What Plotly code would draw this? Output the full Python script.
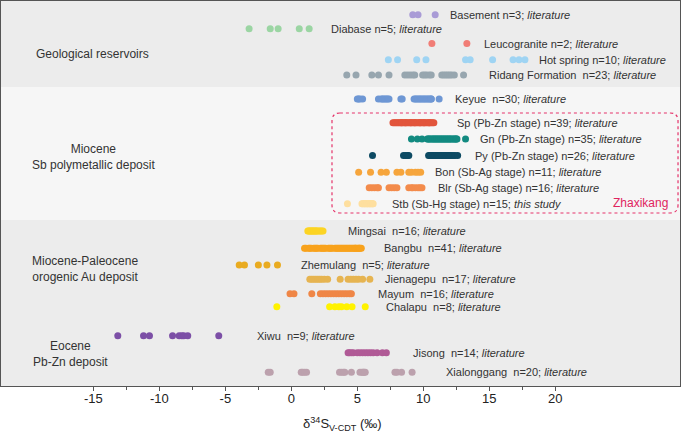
import plotly.graph_objects as go

# ---------------- data (δ34S values, ‰) ----------------
names = ["Basement", "Diabase", "Leucogranite", "Hot spring", "Ridang Formation",
         "Keyue", "Sp", "Gn", "Py", "Bon", "Blr", "Stb",
         "Mingsai", "Bangbu", "Zhemulang", "Jienagepu", "Mayum", "Chalapu",
         "Xiwu", "Jisong", "Xialonggang"]

basement = [9.2, 9.6, 10.9]
diabase = [-3.2, -1.6, -1.0, 0.6, 1.35]
leucogranite = [10.65, 13.3]
hot_spring = [7.35, 8.05, 9.5, 10.2, 13.2, 13.55, 15.25, 16.8, 17.25, 17.7]
ridang = [4.2, 4.9, 6.1, 6.6, 7.4, 8.6, 8.8, 9.0, 9.2, 9.35, 9.95, 10.1, 10.25,
          10.45, 10.6, 11.4, 11.55, 11.7, 11.85, 12.0, 12.15, 12.35, 13.05]
keyue = [5.0, 5.1, 5.2, 5.4, 6.6, 6.8, 6.9, 7.0, 7.1, 7.2, 7.3, 7.4, 8.3, 8.4,
         9.3, 9.4, 9.5, 9.6, 9.7, 9.8, 9.9, 10.0, 10.1, 10.2, 10.3, 10.4, 10.5,
         10.6, 10.6, 11.2]
sp = [7.7, 7.8, 7.9, 8.0, 8.1, 8.2, 8.3, 8.35, 8.4, 8.5, 8.6, 8.65, 8.7, 8.8,
      8.9, 9.0, 9.05, 9.1, 9.2, 9.3, 9.35, 9.4, 9.5, 9.6, 9.7, 9.75, 9.8, 9.9,
      10.0, 10.05, 10.1, 10.2, 10.3, 10.4, 10.45, 10.5, 10.6, 10.7, 10.8]
gn = [9.1, 9.55, 9.9, 10.3, 10.35, 10.45, 10.5, 10.6, 10.7, 10.75, 10.85, 10.9,
      11.0, 11.05, 11.15, 11.2, 11.3, 11.35, 11.45, 11.5, 11.6, 11.65, 11.75,
      11.8, 11.9, 11.95, 12.05, 12.1, 12.2, 12.3, 12.35, 12.45, 12.5, 12.55, 13.2]
py = [6.15, 8.5, 8.65, 8.8, 8.9, 10.4, 10.5, 10.6, 10.7, 10.8, 10.9, 11.0, 11.1,
      11.2, 11.3, 11.4, 11.5, 11.6, 11.7, 11.8, 11.9, 12.0, 12.1, 12.25, 12.4, 12.6]
bon = [5.1, 6.0, 6.8, 7.2, 8.0, 8.3, 8.9, 9.1, 9.4, 9.6, 9.8]
blr = [5.9, 6.1, 6.3, 6.5, 6.6, 7.4, 7.6, 7.8, 8.0, 8.9, 9.1, 9.2, 9.4, 9.6, 9.75, 9.9]
stb = [4.25, 5.35, 5.4, 5.5, 5.55, 5.6, 5.7, 5.75, 5.8, 5.9, 5.95, 6.0, 6.1, 6.15, 6.2]
mingsai = [1.25, 1.3, 1.4, 1.45, 1.5, 1.6, 1.65, 1.7, 1.8, 1.85, 1.9, 2.0, 2.1, 2.2, 2.3, 2.4]
bangbu = [1.0, 1.1, 1.3, 1.4, 1.5, 1.7, 1.8, 1.9, 2.0, 2.2, 2.3, 2.4, 2.5, 2.6,
          2.8, 2.9, 3.0, 3.1, 3.3, 3.4, 3.5, 3.6, 3.7, 3.8, 3.9, 4.0, 4.1, 4.2,
          4.3, 4.4, 4.5, 4.6, 4.7, 4.8, 4.85, 4.9, 5.0, 5.1, 5.15, 5.2, 5.3]
zhemulang = [-3.95, -3.55, -2.5, -1.85, -1.05]
jienagepu = [1.4, 1.55, 1.7, 1.85, 2.0, 2.15, 2.3, 2.5, 2.75, 3.7, 4.3, 4.5, 4.7,
             4.9, 5.1, 5.4, 5.95]
mayum = [-0.1, 0.2, 1.55, 2.2, 2.4, 2.6, 2.8, 3.0, 3.2, 3.4, 3.6, 3.8, 4.0, 4.2, 4.4, 4.55]
chalapu = [-1.1, 2.9, 3.3, 3.6, 3.8, 4.2, 4.6, 5.6]
xiwu = [-13.15, -11.2, -10.75, -9.0, -8.5, -8.3, -8.15, -7.85, -5.5]
jisong = [4.3, 4.4, 4.55, 4.7, 5.0, 5.2, 5.4, 5.6, 5.8, 6.0, 6.2, 6.5, 6.9, 7.2]
xialonggang = [-1.75, -1.6, 0.75, 0.85, 1.0, 1.15, 3.65, 3.8, 3.95, 4.05, 4.55,
               5.2, 5.35, 5.45, 5.5, 5.6, 7.85, 8.0, 8.35, 9.15]

series = [basement, diabase, leucogranite, hot_spring, ridang, keyue, sp, gn, py,
          bon, blr, stb, mingsai, bangbu, zhemulang, jienagepu, mayum, chalapu,
          xiwu, jisong, xialonggang]

labels = ["Basement n=3; <i>literature</i>",
          "Diabase n=5; <i>literature</i>",
          "Leucogranite n=2; <i>literature</i>",
          "Hot spring n=10; <i>literature</i>",
          "Ridang Formation\u00a0 n=23; <i>literature</i>",
          "Keyue\u00a0 n=30; <i>literature</i>",
          "Sp (Pb-Zn stage) n=39; <i>literature</i>",
          "Gn (Pb-Zn stage) n=35; <i>literature</i>",
          "Py (Pb-Zn stage) n=26; <i>literature</i>",
          "Bon (Sb-Ag stage) n=11; <i>literature</i>",
          "Blr (Sb-Ag stage) n=16; <i>literature</i>",
          "Stb (Sb-Hg stage) n=15; <i>this study</i>",
          "Mingsai\u00a0 n=16; <i>literature</i>",
          "Bangbu\u00a0 n=41; <i>literature</i>",
          "Zhemulang\u00a0 n=5; <i>literature</i>",
          "Jienagepu\u00a0 n=17; <i>literature</i>",
          "Mayum\u00a0 n=16; <i>literature</i>",
          "Chalapu\u00a0 n=8; <i>literature</i>",
          "Xiwu\u00a0 n=9; <i>literature</i>",
          "Jisong\u00a0 n=14; <i>literature</i>",
          "Xialonggang\u00a0 n=20; <i>literature</i>"]

group_labels = ["Geological reservoirs",
                "Miocene<br>Sb polymetallic deposit",
                "Miocene-Paleocene<br>orogenic Au deposit",
                "Eocene<br>Pb-Zn deposit"]

tick_vals = [-15, -10, -5, 0, 5, 10, 15, 20]
minor_vals = [-12.5, -7.5, -2.5, 2.5, 7.5, 12.5, 17.5]

# ---------------- layout / style (positions) ----------------
colors = ["#a99bd6", "#9bd5a3", "#f17d76", "#9fd4f3", "#97a6af",
          "#6e97d4", "#e2553c", "#128a80", "#0d4a63", "#f6a53c", "#f38b4b", "#fedf9f",
          "#fcd424", "#f8a21c", "#e9ab20", "#e6b451", "#ef8646", "#fff200",
          "#7c4fa6", "#b05a96", "#bca1ad"]
row_y = [14.7, 28.8, 43.5, 59.7, 75.0,
         99.0, 122.7, 139.0, 155.5, 172.3, 187.8, 203.7,
         231.0, 248.3, 265.0, 279.3, 293.7, 306.8,
         335.8, 352.7, 372.3]
label_x = [11.9, 2.86, 14.42, 18.64, 14.85,
           12.27, 12.4, 14.12, 13.79, 10.76, 10.96, 7.48,
           4.12, 6.89, 0.58, 6.97, 6.39, 7.02,
           -2.75, 9.05, 11.57]
group_pos = [(92.5, 53.7), (93, 157), (85, 269), (70, 354)]
bands = [(1, 87, "#ececec"), (87, 220, "#f6f6f6"), (220, 386, "#ececec")]

X0, X1 = -22.0, 29.45
PLOT_L, PLOT_R = 1, 680
FONT = "Liberation Sans, Arial, sans-serif"


def px_to_paper(px):
    return (px - PLOT_L) / (PLOT_R - PLOT_L)


fig = go.Figure()
for vals, yy, col in zip(series, row_y, colors):
    fig.add_trace(go.Scatter(x=vals, y=[yy] * len(vals), mode="markers",
                             marker=dict(size=7, color=col, line=dict(width=0)),
                             showlegend=False, hoverinfo="x"))

shapes = []
for y0, y1, c in bands:
    shapes.append(dict(type="rect", xref="paper", yref="y", x0=0, x1=1, y0=y0, y1=y1,
                       fillcolor=c, line=dict(width=0), layer="below"))

# Zhaxikang rounded dotted box
bx0, bx1, by0, by1 = 3.08, 29.3, 113, 213
rx, ry = 0.6, 8
path = (f"M {bx0+rx},{by0} L {bx1-rx},{by0} Q {bx1},{by0} {bx1},{by0+ry} "
        f"L {bx1},{by1-ry} Q {bx1},{by1} {bx1-rx},{by1} L {bx0+rx},{by1} "
        f"Q {bx0},{by1} {bx0},{by1-ry} L {bx0},{by0+ry} Q {bx0},{by0} {bx0+rx},{by0} Z")
shapes.append(dict(type="path", path=path, xref="x", yref="y",
                   line=dict(color="#e5336a", width=1.2, dash="dot")))

annotations = []
for lab, lx, yy in zip(labels, label_x, row_y):
    annotations.append(dict(x=lx, y=yy, xref="x", yref="y", text=lab, showarrow=False,
                            xanchor="left", yanchor="middle",
                            font=dict(family=FONT, size=11, color="#333333")))
for t, (gx, gy) in zip(group_labels, group_pos):
    annotations.append(dict(x=px_to_paper(gx), y=gy, xref="paper", yref="y", text=t,
                            showarrow=False, xanchor="center", yanchor="middle",
                            align="center",
                            font=dict(family=FONT, size=12, color="#333333")))
annotations.append(dict(x=28.7, y=202.5, xref="x", yref="y", text="Zhaxikang",
                        showarrow=False, xanchor="right", yanchor="middle",
                        font=dict(family=FONT, size=12, color="#e0245e")))
annotations.append(dict(x=px_to_paper(342.5), y=(386 - 424) / 385, xref="paper", yref="paper",
                        text="δ<sup>34</sup>S<sub>V-CDT</sub> (‰)", showarrow=False,
                        xanchor="center", yanchor="middle",
                        font=dict(family=FONT, size=13, color="#222222")))

fig.update_layout(
    width=685, height=435,
    margin=dict(l=PLOT_L, r=685 - PLOT_R, t=1, b=49),
    paper_bgcolor="white", plot_bgcolor="white",
    shapes=shapes, annotations=annotations,
    xaxis=dict(range=[X0, X1], tickmode="array", tickvals=tick_vals,
               ticktext=[str(v) for v in tick_vals], ticks="outside", ticklen=4,
               ticklabelstandoff=-4,
               tickcolor="#555555", showgrid=False, zeroline=False,
               showline=True, linecolor="#555555", linewidth=1, mirror=True,
               tickfont=dict(family=FONT, size=13, color="#222222"),
               minor=dict(tickvals=minor_vals, ticks="outside", ticklen=3,
                          tickcolor="#555555", showgrid=False)),
    yaxis=dict(range=[386, 1], showticklabels=False, ticks="", showgrid=False,
               zeroline=False, showline=True, linecolor="#555555", linewidth=1,
               mirror=True, fixedrange=True),
)

fig.write_html("out.html")
